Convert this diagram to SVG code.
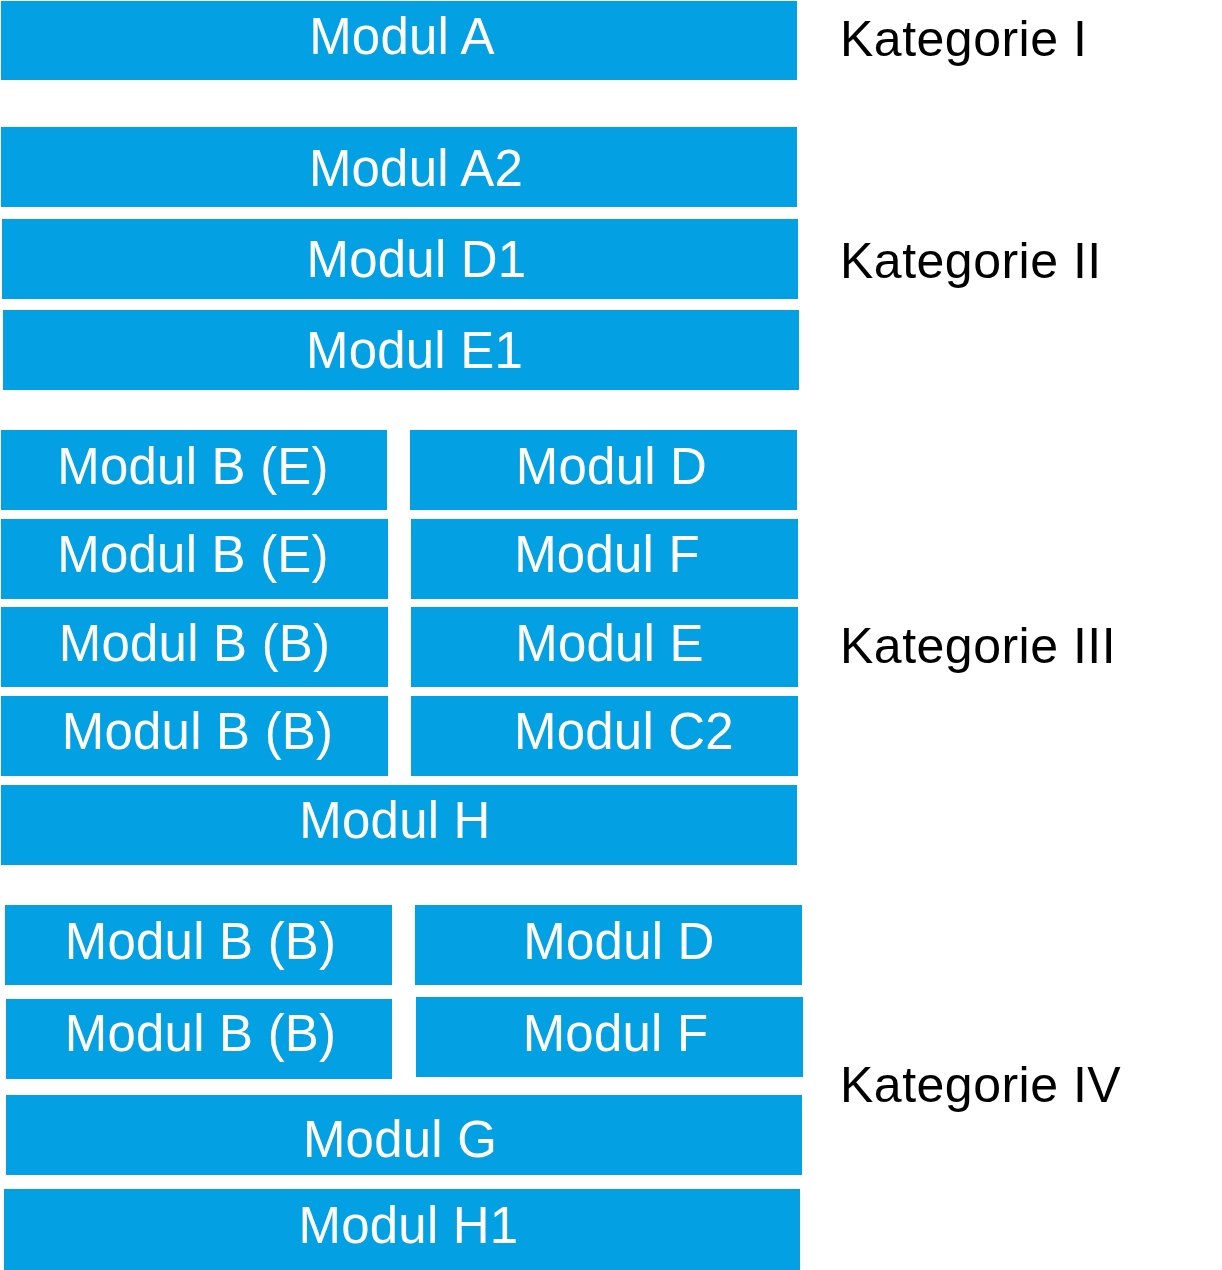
<svg xmlns="http://www.w3.org/2000/svg" width="1222" height="1270" viewBox="0 0 1222 1270">
<style>
.box{fill:#03a0e3}
.lbl{fill:#ffffff;font-family:"Liberation Sans",Arial,sans-serif;font-size:51px;letter-spacing:0.2px;text-anchor:middle}
.cat{fill:#000000;font-family:"Liberation Sans",Arial,sans-serif;font-size:50px;letter-spacing:0.5px}
</style>
<rect width="1222" height="1270" fill="#ffffff"/>
<g id="connectors"></g>
<g id="modul-a"><rect class="box" x="1" y="1" width="796" height="79"/><text class="lbl" x="402" y="54">Modul A</text></g>
<g id="modul-a2"><rect class="box" x="1" y="127" width="796" height="80"/><text class="lbl" x="416" y="186">Modul A2</text></g>
<g id="modul-d1"><rect class="box" x="2" y="219" width="796" height="80"/><text class="lbl" x="416.5" y="277">Modul D1</text></g>
<g id="modul-e1"><rect class="box" x="3" y="310" width="796" height="80"/><text class="lbl" x="414.5" y="368">Modul E1</text></g>
<g id="modul-b-e-1"><rect class="box" x="1" y="430" width="386" height="80"/><text class="lbl" x="193" y="484">Modul B (E)</text></g>
<g id="modul-d-3"><rect class="box" x="410" y="430" width="387" height="80"/><text class="lbl" x="611.5" y="484">Modul D</text></g>
<g id="modul-b-e-2"><rect class="box" x="1" y="519" width="387" height="80"/><text class="lbl" x="193" y="572">Modul B (E)</text></g>
<g id="modul-f-3"><rect class="box" x="411" y="519" width="387" height="80"/><text class="lbl" x="607" y="572">Modul F</text></g>
<g id="modul-b-b-1"><rect class="box" x="1" y="607" width="387" height="80"/><text class="lbl" x="194.5" y="661">Modul B (B)</text></g>
<g id="modul-e-3"><rect class="box" x="411" y="607" width="387" height="80"/><text class="lbl" x="609.5" y="661">Modul E</text></g>
<g id="modul-b-b-2"><rect class="box" x="1" y="696" width="387" height="80"/><text class="lbl" x="197.5" y="749">Modul B (B)</text></g>
<g id="modul-c2"><rect class="box" x="411" y="696" width="387" height="80"/><text class="lbl" x="624" y="749">Modul C2</text></g>
<g id="modul-h"><rect class="box" x="1" y="785" width="796" height="80"/><text class="lbl" x="395" y="838">Modul H</text></g>
<g id="modul-b-b-3"><rect class="box" x="5" y="905" width="387" height="80"/><text class="lbl" x="200.5" y="959">Modul B (B)</text></g>
<g id="modul-d-4"><rect class="box" x="415" y="905" width="387" height="80"/><text class="lbl" x="619" y="959">Modul D</text></g>
<g id="modul-b-b-4"><rect class="box" x="6" y="999" width="386" height="80"/><text class="lbl" x="200.5" y="1051">Modul B (B)</text></g>
<g id="modul-f-4"><rect class="box" x="416" y="997" width="387" height="80"/><text class="lbl" x="615.5" y="1051">Modul F</text></g>
<g id="modul-g"><rect class="box" x="6" y="1095" width="796" height="80"/><text class="lbl" x="400" y="1157">Modul G</text></g>
<g id="modul-h1"><rect class="box" x="4" y="1189" width="796" height="81"/><text class="lbl" x="408.5" y="1243">Modul H1</text></g>
<g id="kategorie-i"><text class="cat" x="840" y="56">Kategorie I</text></g>
<g id="kategorie-ii"><text class="cat" x="840" y="278">Kategorie II</text></g>
<g id="kategorie-iii"><text class="cat" x="840" y="663">Kategorie III</text></g>
<g id="kategorie-iv"><text class="cat" x="840" y="1102">Kategorie IV</text></g>
</svg>
